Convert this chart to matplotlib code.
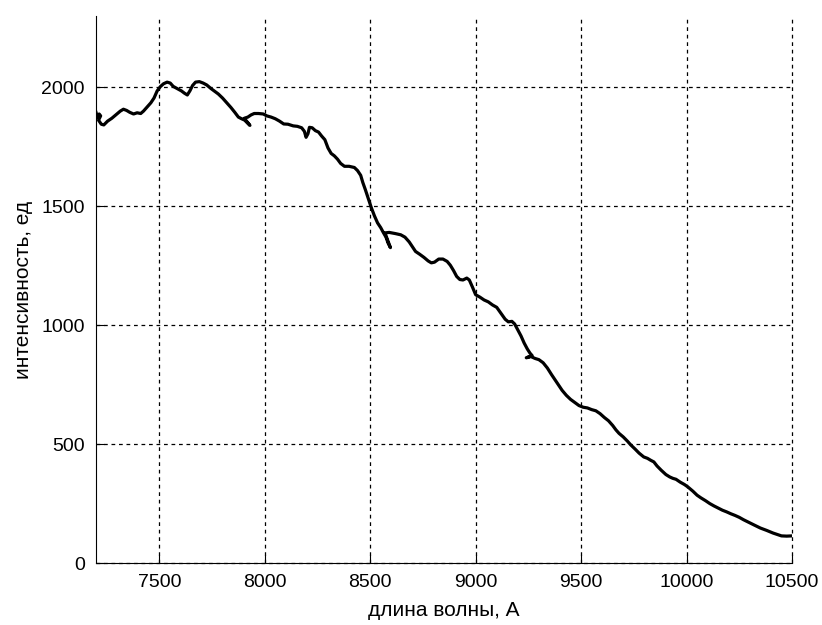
import matplotlib.pyplot as plt
import numpy as np

plt.rcParams['font.family'] = ['Liberation Sans', 'DejaVu Sans']

# spliced spectrum: wavelength (A) and intensity (units)
wavelength = [
    7200, 7207, 7215, 7222, 7212, 7225, 7237, 7255, 7275, 7295, 7315, 7330,
    7345, 7360, 7378, 7395, 7412, 7425, 7440, 7460, 7475, 7490, 7505, 7520,
    7537, 7552, 7566, 7585, 7605, 7620, 7633, 7645, 7658, 7672, 7690, 7708,
    7725, 7745, 7765, 7780, 7800, 7820, 7840, 7858, 7875, 7890, 7905, 7918,
    7930, 7903, 7920, 7935, 7950, 7970, 7993, 8010, 8030, 8050, 8070, 8090,
    8110, 8135, 8155, 8175, 8188, 8196, 8205, 8212, 8225, 8240, 8255, 8270,
    8285, 8300, 8315, 8330, 8345, 8360, 8378, 8400, 8425, 8440, 8455, 8465,
    8477, 8490, 8505, 8520, 8535, 8550, 8562, 8575, 8585, 8596, 8570, 8590,
    8620, 8645, 8665, 8685, 8700, 8715, 8735, 8755, 8775, 8790, 8805, 8825,
    8845, 8865, 8880, 8895, 8910, 8925, 8940, 8958, 8970, 8985, 9000, 9020,
    9040, 9060, 9080, 9100, 9120, 9140, 9155, 9172, 9185, 9200, 9215, 9230,
    9245, 9258, 9268, 9240, 9262, 9282, 9300, 9320, 9340, 9360, 9378, 9395,
    9410, 9430, 9450, 9470, 9490, 9510, 9530, 9550, 9570, 9590, 9610, 9630,
    9650, 9665, 9680, 9700, 9720, 9735, 9755, 9775, 9797, 9815, 9830, 9845,
    9860, 9880, 9902, 9920, 9935, 9950, 9970, 9990, 10006, 10030, 10050, 10068,
    10090, 10110, 10130, 10148, 10170, 10190, 10210, 10230, 10250, 10270, 10290, 10320,
    10350, 10380, 10410, 10430, 10450, 10475, 10500,
]
intensity = [
    1895, 1875, 1888, 1880, 1862, 1845, 1842, 1858, 1870, 1885, 1900, 1908,
    1903, 1895, 1888, 1893, 1890, 1900, 1915, 1935, 1955, 1985, 2003, 2015,
    2022, 2018, 2004, 1995, 1985, 1975, 1968, 1985, 2008, 2022, 2024, 2018,
    2010, 1995, 1982, 1972, 1955, 1935, 1915, 1895, 1875, 1868, 1862, 1850,
    1840, 1870, 1875, 1884, 1890, 1890, 1888, 1880, 1875, 1868, 1858, 1846,
    1845, 1838, 1836, 1830, 1815, 1790, 1805, 1832, 1830, 1818, 1812, 1795,
    1780, 1745, 1722, 1712, 1698, 1680, 1668, 1668, 1663, 1650, 1630, 1600,
    1570, 1535, 1495, 1460, 1430, 1410, 1390, 1370, 1345, 1326, 1388, 1390,
    1385, 1380, 1370, 1350, 1330, 1310, 1298, 1285, 1270, 1262, 1265, 1278,
    1278, 1268, 1252, 1230, 1205, 1192, 1190, 1198, 1190, 1160, 1128, 1118,
    1106, 1098, 1085, 1075, 1050, 1025, 1014, 1016, 1005, 980, 955, 925,
    900, 882, 872, 863, 868, 860, 855, 842, 820, 792, 768, 745,
    726, 705, 688, 675, 662, 655, 652, 645, 640, 628, 612, 598,
    578, 560, 545, 530, 512, 497, 480, 462, 446, 440, 432, 425,
    408, 390, 372, 362, 356, 352, 340, 330, 320, 302, 285, 274,
    262, 250, 240, 232, 222, 215, 207, 200, 192, 182, 173, 160,
    147, 137, 126, 120, 114, 113, 114,
]

x_ticks = [7500, 8000, 8500, 9000, 9500, 10000, 10500]
y_ticks = [0, 500, 1000, 1500, 2000]

fig = plt.figure(figsize=(8.22, 6.25), dpi=100)
ax = fig.add_axes([0.1168, 0.0992, 0.8467, 0.8752])

ax.plot(wavelength, intensity, color='black', linewidth=2.3)

ax.set_xlim(7200, 10500)
ax.set_ylim(0, 2300)
ax.set_xticks(x_ticks)
ax.set_yticks(y_ticks)
ax.grid(True, color='black', linestyle=(0, (3, 3)), linewidth=0.9)
# keep the grid line on the right edge from being cut in half
for line in ax.get_xgridlines() + ax.get_ygridlines():
    line.set_clip_on(False)

ax.spines['top'].set_visible(False)
ax.spines['right'].set_visible(False)
ax.tick_params(direction='in', length=6, width=0.8, labelsize=14, pad=8)

ax.set_xlabel('длина волны, А', fontsize=15, labelpad=7)
ax.set_ylabel('интенсивность, ед', fontsize=15, labelpad=6)

fig.savefig('out.png', dpi=100)
